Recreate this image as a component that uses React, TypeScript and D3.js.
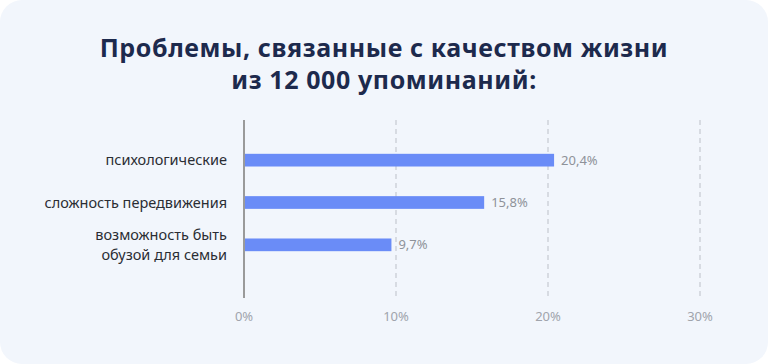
import React, { useEffect, useRef } from 'react';
import * as d3 from 'd3';

const categories = ['психологические', 'сложность передвижения', 'возможность быть\nобузой для семьи'];
const values = [20.4, 15.8, 9.7];
const valueLabels = ['20,4%', '15,8%', '9,7%'];
const ticks = [0, 10, 20, 30];
const titleLines = ['Проблемы, связанные с качеством жизни', 'из 12 000 упоминаний:'];

export default function App() {
  const svgRef = useRef<SVGSVGElement>(null);

  useEffect(() => {
    const svg = d3.select(svgRef.current);
    svg.selectAll('*').remove();

    const W = 768, H = 364;
    const left = 244, right = 700, top = 120, bottom = 298;

    // card background
    svg.append('rect').attr('width', W).attr('height', H).attr('fill', '#ffffff');
    svg.append('rect')
      .attr('width', W).attr('height', H)
      .attr('rx', 22).attr('fill', '#f2f6fc');

    svg.selectAll('text.title')
      .data(titleLines)
      .enter()
      .append('text')
      .attr('x', W / 2)
      .attr('y', (d, i) => 57 + i * 32)
      .attr('text-anchor', 'middle')
      .attr('font-family', 'Noto Sans, sans-serif')
      .attr('font-weight', 700)
      .attr('font-size', '25px')
      .attr('letter-spacing', '0.6px')
      .attr('fill', '#1d2a4d')
      .text(d => d);

    const x = d3.scaleLinear().domain([0, 30]).range([left, right]);
    const y = d3.scaleBand()
      .domain(categories)
      .range([139, 266])
      .paddingInner(0.7)
      .paddingOuter(0.35);

    // dashed gridlines
    svg.selectAll('line.grid')
      .data(ticks.filter(t => t > 0))
      .enter()
      .append('line')
      .attr('x1', d => x(d)).attr('x2', d => x(d))
      .attr('y1', top).attr('y2', bottom)
      .attr('stroke', '#bcc0c8')
      .attr('stroke-width', 1)
      .attr('stroke-dasharray', '5,4');

    svg.selectAll('text.tick')
      .data(ticks)
      .enter()
      .append('text')
      .attr('x', d => x(d))
      .attr('y', 321)
      .attr('text-anchor', 'middle')
      .attr('font-family', 'Noto Sans, sans-serif')
      .attr('font-size', '13px')
      .attr('fill', '#a0a4ac')
      .text(d => `${d}%`);

    // bars
    svg.selectAll('rect.bar')
      .data(values)
      .enter()
      .append('rect')
      .attr('x', left)
      .attr('y', (d, i) => y(categories[i])!)
      .attr('width', d => x(d) - left)
      .attr('height', y.bandwidth())
      .attr('fill', '#6a8cf7');

    svg.selectAll('text.val')
      .data(values)
      .enter()
      .append('text')
      .attr('x', d => x(d) + 7)
      .attr('y', (d, i) => y(categories[i])! + y.bandwidth() / 2 + 4.5)
      .attr('font-family', 'Noto Sans, sans-serif')
      .attr('font-size', '13px')
      .attr('fill', '#8e9299')
      .text((d, i) => valueLabels[i]);

    // category labels
    categories.forEach(c => {
      const lines = c.split('\n');
      const cy = y(c)! + y.bandwidth() / 2;
      const t = svg.append('text')
        .attr('text-anchor', 'end')
        .attr('font-family', 'Noto Sans, sans-serif')
        .attr('font-size', '14.5px')
        .attr('fill', '#2a2d33');
      lines.forEach((l, i) => {
        t.append('tspan')
          .attr('x', 227)
          .attr('y', cy + 5 + (i - (lines.length - 1) / 2) * 20)
          .text(l);
      });
    });

    // zero axis
    svg.append('line')
      .attr('x1', left).attr('x2', left)
      .attr('y1', top).attr('y2', bottom)
      .attr('stroke', '#9a9a9a')
      .attr('stroke-width', 2);
  }, []);

  return (
    <svg
      ref={svgRef}
      width={768}
      height={364}
      style={{ display: 'block', position: 'absolute', left: 0, top: 0 }}
    />
  );
}
